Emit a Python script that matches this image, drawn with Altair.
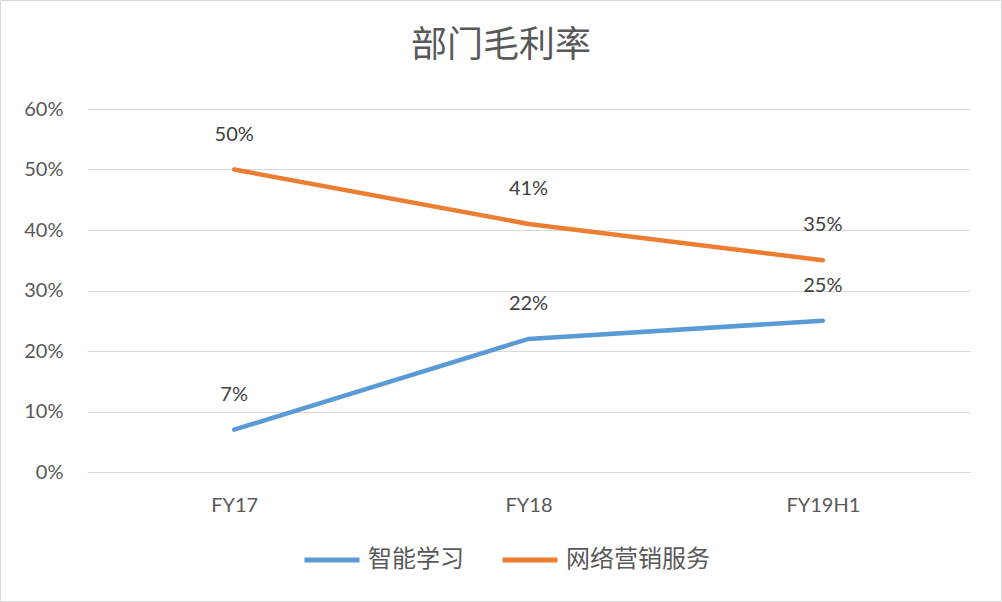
import altair as alt
import pandas as pd

categories = ["FY17", "FY18", "FY19H1"]
series_names = ["智能学习", "网络营销服务"]
smart_learning = [0.07, 0.22, 0.25]
online_marketing = [0.50, 0.41, 0.35]
colors = ["#5B9BD5", "#ED7D31"]
title_text = "部门毛利率"

rows = []
for c, v in zip(categories, smart_learning):
    rows.append({"period": c, "series": series_names[0], "value": v})
for c, v in zip(categories, online_marketing):
    rows.append({"period": c, "series": series_names[1], "value": v})
df = pd.DataFrame(rows)

num_font = "Lato"
cjk_font = "Noto Sans CJK SC"

x = alt.X("period:N", sort=categories, title=None,
          scale=alt.Scale(type="point", padding=0.5),
          axis=alt.Axis(labelAngle=0, labelFont=num_font, labelFontSize=20,
                        labelColor="#595959", ticks=False, domain=False,
                        labelPadding=23, grid=False))
y = alt.Y("value:Q", title=None,
          scale=alt.Scale(domain=[0, 0.6]),
          axis=alt.Axis(format=".0%", values=[0, 0.1, 0.2, 0.3, 0.4, 0.5, 0.6],
                        labelFont=num_font, labelFontSize=20, labelColor="#595959",
                        ticks=False, domain=False, labelPadding=24,
                        gridColor="#D9D9D9", gridWidth=1))

color = alt.Color("series:N", sort=series_names,
                  scale=alt.Scale(domain=series_names, range=colors),
                  legend=alt.Legend(title=None, orient="none", direction="horizontal",
                                    legendX=215, legendY=421,
                                    symbolType="stroke", symbolSize=3025,
                                    symbolStrokeWidth=5, labelFont=cjk_font,
                                    labelFontSize=24, labelColor="#595959",
                                    columnPadding=28, labelOffset=6))

lines = alt.Chart(df).mark_line(strokeWidth=4.5, strokeCap="round").encode(
    x=x, y=y, color=color, detail="series:N")

labels = alt.Chart(df).mark_text(dy=-35, font=num_font, fontSize=20,
                                 color="#404040").encode(
    x=alt.X("period:N", sort=categories),
    y="value:Q",
    text=alt.Text("value:Q", format=".0%"))

border = alt.Chart(pd.DataFrame({"a": [0]})).mark_rect(
    fill=None, stroke="#D9D9D9", strokeWidth=1).encode(
    x=alt.value(-86.5), x2=alt.value(914.5), y=alt.value(-108.5), y2=alt.value(492.5))

title = alt.Chart(pd.DataFrame({"t": [title_text]})).mark_text(
    font=cjk_font, fontSize=36, color="#595959", baseline="middle", align="center").encode(
    text="t:N", x=alt.value(414), y=alt.value(-63))

chart = alt.layer(border, lines, labels, title).properties(
    width=883, height=363,
    autosize=alt.AutoSizeParams(type="none"),
    padding={"left": 87, "top": 109, "right": 32, "bottom": 130},
    background="white",
).configure_view(stroke=None)

chart.save("out.html", embed_options={"renderer": "svg", "actions": False})
